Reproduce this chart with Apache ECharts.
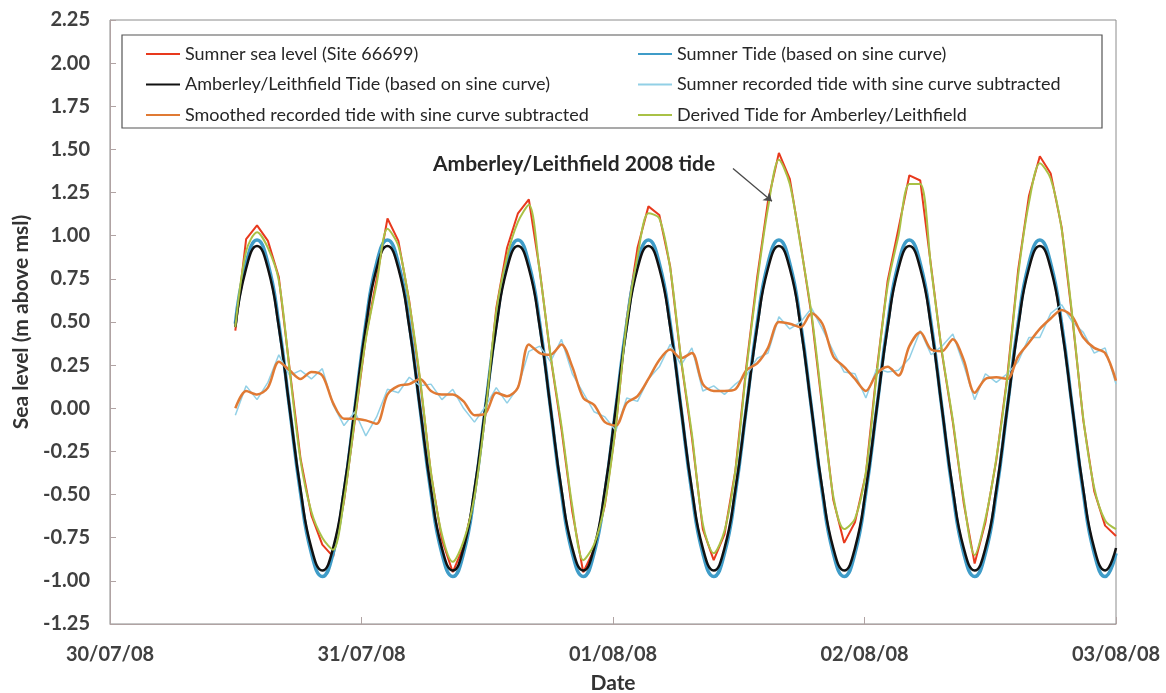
<!DOCTYPE html>
<html lang="en">

<head>
    <meta charset="UTF-8">
    <title>Sumner / Amberley tide</title>
    <script src="https://cdn.jsdelivr.net/npm/echarts@6/dist/echarts.min.js"></script>
    <style>
        * {
            padding: 0;
            margin: 0;
        }

        #chart {
            width: 1166px;
            height: 693px;
            background: #fff;
        }
    </style>
</head>

<body>
    <div id="chart"></div>
    <script>
        // x positions in hours after 30/07/08 00:00
        var dateLabels = ['30/07/08', '31/07/08', '01/08/08', '02/08/08', '03/08/08'];

        var hours = [
            11.96, 12.99, 14.03, 15.07, 16.11, 17.14, 18.18, 19.22, 20.26, 21.29, 22.33, 23.37,
            24.41, 25.44, 26.48, 27.52, 28.56, 29.59, 30.63, 31.67, 32.71, 33.74, 34.78, 35.82,
            36.86, 37.89, 38.93, 39.97, 41.01, 42.04, 43.08, 44.12, 45.16, 46.19, 47.23, 48.27,
            49.31, 50.34, 51.38, 52.42, 53.46, 54.49, 55.53, 56.57, 57.61, 58.64, 59.68, 60.72,
            61.76, 62.79, 63.83, 64.87, 65.91, 66.94, 67.98, 69.02, 70.06, 71.09, 72.13, 73.17,
            74.21, 75.24, 76.28, 77.32, 78.36, 79.39, 80.43, 81.47, 82.51, 83.54, 84.58, 85.62,
            86.66, 87.69, 88.73, 89.77, 90.81, 91.84, 92.88, 93.92, 94.96, 96.00
        ];

        // Sumner sea level (Site 66699)
        var sumnerLevel = [
            0.45, 0.98, 1.06, 0.97, 0.76, 0.23, -0.29, -0.62, -0.79, -0.86, -0.54, -0.07,
            0.41, 0.75, 1.10, 0.97, 0.62, 0.16, -0.38, -0.76, -0.95, -0.80, -0.52, -0.04,
            0.58, 0.93, 1.13, 1.21, 0.80, 0.30, -0.12, -0.60, -0.95, -0.82, -0.56, -0.11,
            0.52, 0.93, 1.17, 1.12, 0.82, 0.28, -0.17, -0.70, -0.88, -0.73, -0.36, 0.24,
            0.76, 1.20, 1.48, 1.33, 0.95, 0.54, 0.00, -0.53, -0.78, -0.66, -0.38, 0.22,
            0.74, 1.04, 1.35, 1.32, 0.82, 0.32, -0.08, -0.55, -0.90, -0.66, -0.30, 0.18,
            0.80, 1.23, 1.46, 1.36, 1.05, 0.52, -0.07, -0.48, -0.68, -0.74
        ];

        // Sumner Tide (based on sine curve)
        var sumnerTide = [
            0.49, 0.84, 0.975, 0.84, 0.49, 0, -0.49, -0.84, -0.975, -0.84, -0.49, 0,
            0.49, 0.84, 0.975, 0.84, 0.49, 0, -0.49, -0.84, -0.975, -0.84, -0.49, 0,
            0.49, 0.84, 0.975, 0.84, 0.49, 0, -0.49, -0.84, -0.975, -0.84, -0.49, 0,
            0.49, 0.84, 0.975, 0.84, 0.49, 0, -0.49, -0.84, -0.975, -0.84, -0.49, 0,
            0.49, 0.84, 0.975, 0.84, 0.49, 0, -0.49, -0.84, -0.975, -0.84, -0.49, 0,
            0.49, 0.84, 0.975, 0.84, 0.49, 0, -0.49, -0.84, -0.975, -0.84, -0.49, 0,
            0.49, 0.84, 0.975, 0.84, 0.49, 0, -0.49, -0.84, -0.975, -0.84
        ];

        // Amberley/Leithfield Tide (based on sine curve)
        var amberleyTide = [
            0.47, 0.81, 0.94, 0.81, 0.47, 0, -0.47, -0.81, -0.94, -0.81, -0.47, 0,
            0.47, 0.81, 0.94, 0.81, 0.47, 0, -0.47, -0.81, -0.94, -0.81, -0.47, 0,
            0.47, 0.81, 0.94, 0.81, 0.47, 0, -0.47, -0.81, -0.94, -0.81, -0.47, 0,
            0.47, 0.81, 0.94, 0.81, 0.47, 0, -0.47, -0.81, -0.94, -0.81, -0.47, 0,
            0.47, 0.81, 0.94, 0.81, 0.47, 0, -0.47, -0.81, -0.94, -0.81, -0.47, 0,
            0.47, 0.81, 0.94, 0.81, 0.47, 0, -0.47, -0.81, -0.94, -0.81, -0.47, 0,
            0.47, 0.81, 0.94, 0.81, 0.47, 0, -0.47, -0.81, -0.94, -0.81
        ];

        // Sumner recorded tide with sine curve subtracted
        var residual = [
            -0.04, 0.13, 0.05, 0.15, 0.31, 0.19, 0.22, 0.17, 0.23, 0.02, -0.10, -0.02,
            -0.16, -0.05, 0.11, 0.09, 0.18, 0.13, 0.14, 0.05, 0.11, 0.00, -0.08, 0.01,
            0.12, 0.03, 0.12, 0.33, 0.36, 0.27, 0.40, 0.20, 0.09, -0.02, -0.05, -0.13,
            0.06, 0.04, 0.17, 0.24, 0.37, 0.25, 0.35, 0.10, 0.13, 0.08, 0.14, 0.19,
            0.29, 0.32, 0.53, 0.46, 0.50, 0.58, 0.46, 0.33, 0.21, 0.20, 0.06, 0.23,
            0.21, 0.22, 0.29, 0.45, 0.31, 0.36, 0.43, 0.25, 0.05, 0.20, 0.15, 0.20,
            0.27, 0.41, 0.41, 0.55, 0.60, 0.50, 0.44, 0.32, 0.35, 0.14
        ];

        // Smoothed recorded tide with sine curve subtracted
        var smoothedResidual = [
            0.00, 0.10, 0.08, 0.12, 0.27, 0.22, 0.17, 0.21, 0.19, 0.03, -0.06, -0.06,
            -0.07, -0.09, 0.08, 0.13, 0.14, 0.17, 0.10, 0.08, 0.08, 0.04, -0.04, -0.03,
            0.09, 0.07, 0.12, 0.37, 0.32, 0.31, 0.37, 0.24, 0.06, 0.02, -0.08, -0.10,
            0.03, 0.07, 0.17, 0.28, 0.34, 0.29, 0.32, 0.14, 0.10, 0.10, 0.11, 0.22,
            0.26, 0.35, 0.50, 0.49, 0.47, 0.55, 0.49, 0.30, 0.24, 0.17, 0.10, 0.20,
            0.24, 0.19, 0.36, 0.44, 0.34, 0.33, 0.40, 0.28, 0.09, 0.17, 0.18, 0.17,
            0.30, 0.38, 0.46, 0.52, 0.57, 0.53, 0.41, 0.35, 0.32, 0.16
        ];

        // Derived Tide for Amberley/Leithfield
        var derivedTide = [
            0.47, 0.91, 1.02, 0.93, 0.74, 0.22, -0.30, -0.60, -0.75, -0.82, -0.53, -0.06,
            0.40, 0.72, 1.04, 0.94, 0.61, 0.17, -0.37, -0.73, -0.89, -0.77, -0.51, -0.03,
            0.56, 0.88, 1.08, 1.18, 0.79, 0.31, -0.10, -0.57, -0.88, -0.79, -0.55, -0.10,
            0.50, 0.88, 1.13, 1.10, 0.81, 0.29, -0.15, -0.67, -0.84, -0.71, -0.36, 0.22,
            0.73, 1.16, 1.44, 1.30, 0.94, 0.55, 0.02, -0.51, -0.70, -0.64, -0.37, 0.20,
            0.71, 1.00, 1.30, 1.30, 0.81, 0.33, -0.07, -0.53, -0.85, -0.64, -0.29, 0.17,
            0.77, 1.19, 1.42, 1.33, 1.04, 0.53, -0.06, -0.46, -0.65, -0.70
        ];

        var seriesNames = [
            'Sumner sea level (Site 66699)',
            'Sumner Tide (based on sine curve)',
            'Amberley/Leithfield Tide (based on sine curve)',
            'Sumner recorded tide with sine curve subtracted',
            'Smoothed recorded tide with sine curve subtracted',
            'Derived Tide for Amberley/Leithfield'
        ];

        // arrow of the annotation, in [hours, m] coordinates
        var arrowFrom = [59.45, 1.39];
        var arrowTo = [63.17, 1.20];

        var FONT = 'Lato, "Open Sans", sans-serif';

        function pairs(vals) {
            return vals.map(function (v, i) {
                return [hours[i], v];
            });
        }

        function line(name, vals, color, width, smooth) {
            return {
                name: name,
                type: 'line',
                data: pairs(vals),
                symbol: 'none',
                smooth: smooth,
                lineStyle: { color: color, width: width },
                itemStyle: { color: color },
                emphasis: { disabled: true },
                animation: false
            };
        }

        var legendBase = {
            orient: 'vertical',
            top: 40,
            itemWidth: 34,
            itemHeight: 14,
            itemGap: 12.5,
            selectedMode: false,
            itemStyle: { opacity: 0 },
            textStyle: { fontFamily: FONT, fontSize: 18, color: '#262626' }
        };

        var chart = echarts.init(document.getElementById('chart'));

        var series = [
            line(seriesNames[0], sumnerLevel, '#e8391d', 2, false),
            line(seriesNames[1], sumnerTide, '#3f9cc8', 3.5, 0.5),
            line(seriesNames[2], amberleyTide, '#111111', 2.5, 0.5),
            line(seriesNames[3], residual, '#92d0e6', 1.5, false),
            line(seriesNames[4], smoothedResidual, '#e07a34', 2.5, 0.3),
            line(seriesNames[5], derivedTide, '#a9c146', 2, 0.3)
        ];
        series[5].markLine = {
            silent: true,
            symbol: ['none', 'arrow'],
            symbolSize: 8,
            label: { show: false },
            lineStyle: { color: '#4a4a4a', width: 1.3, type: 'solid' },
            data: [[{ coord: arrowFrom }, { coord: arrowTo }]]
        };

        chart.setOption({
            backgroundColor: '#fff',
            animation: false,
            grid: {
                left: 110, top: 20, right: 50, bottom: 69,
                outerBoundsMode: 'none',
                show: true, borderColor: '#8c8c8c', borderWidth: 1
            },
            legend: [
                Object.assign({}, legendBase, {
                    left: 140,
                    data: [seriesNames[0], seriesNames[2], seriesNames[4]]
                }),
                Object.assign({}, legendBase, {
                    left: 632,
                    data: [seriesNames[1], seriesNames[3], seriesNames[5]]
                })
            ],
            xAxis: {
                type: 'value',
                min: 0,
                max: 96,
                interval: 24,
                name: 'Date',
                nameLocation: 'middle',
                nameGap: 49,
                nameTextStyle: { fontFamily: FONT, fontSize: 21, fontWeight: 'bold', color: '#333' },
                axisLine: { onZero: false, lineStyle: { color: '#b0a3a3' } },
                axisTick: { inside: true, length: 7, lineStyle: { color: '#b0a3a3' } },
                splitLine: { show: false },
                axisLabel: {
                    margin: 21,
                    fontFamily: FONT, fontSize: 20, fontWeight: 'bold', color: '#404040',
                    formatter: function (v) { return dateLabels[v / 24]; }
                }
            },
            yAxis: {
                type: 'value',
                min: -1.25,
                max: 2.25,
                interval: 0.25,
                name: 'Sea level (m above msl)',
                nameLocation: 'middle',
                nameGap: 76,
                nameTextStyle: { fontFamily: FONT, fontSize: 21, fontWeight: 'bold', color: '#333' },
                axisLine: { show: true, onZero: false, lineStyle: { color: '#b0a3a3' } },
                axisTick: { show: true, inside: true, length: 6, lineStyle: { color: '#b0a3a3' } },
                splitLine: { show: false },
                axisLabel: {
                    margin: 20,
                    fontFamily: FONT, fontSize: 20, fontWeight: 'bold', color: '#404040',
                    formatter: function (v) { return v.toFixed(2); }
                }
            },
            graphic: [
                {
                    type: 'rect',
                    silent: true,
                    shape: { x: 122, y: 35, width: 980, height: 93 },
                    style: { fill: '#fff', stroke: '#555', lineWidth: 1.2 },
                    z: -1
                },
                {
                    type: 'text',
                    silent: true,
                    left: 433,
                    top: 154,
                    style: {
                        text: 'Amberley/Leithfield 2008 tide',
                        font: 'bold 21px ' + FONT,
                        fill: '#262626'
                    }
                }
            ],
            series: series
        });
    </script>
</body>

</html>
